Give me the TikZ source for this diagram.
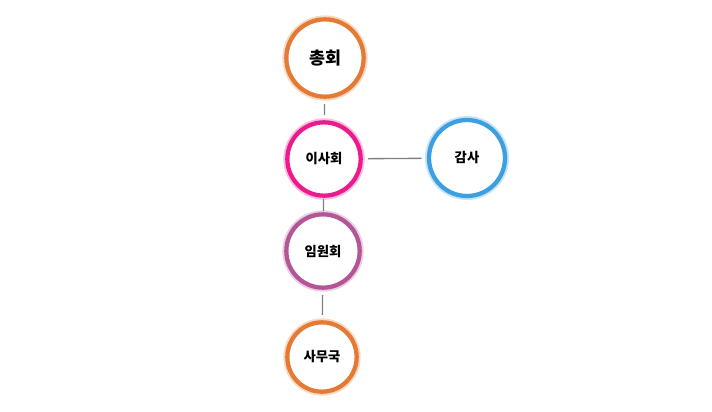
\documentclass[tikz,border=0pt]{standalone}
\usepackage{fontspec}
\newfontfamily\kofont{Noto Sans CJK KR}
\usepackage{tikz}
\usetikzlibrary{positioning}
\definecolor{ringorange}{HTML}{E47A34}
\definecolor{ringpink}{HTML}{EC1A8C}
\definecolor{ringblue}{HTML}{3C9FE2}
\definecolor{ringpurple}{HTML}{B45596}
\definecolor{linkgray}{HTML}{7F7F7F}
\tikzset{
  ring/.style={circle, draw=#1, line width=3.2pt, fill=white, inner sep=0pt,
    preaction={draw=#1!28, line width=6pt},
    font=\kofont\bfseries\fontsize{10}{12}\selectfont},
  link/.style={draw=linkgray, line width=1pt, shorten <=4pt, shorten >=4pt}
}
\begin{document}
\begin{tikzpicture}[x=0.75pt, y=-0.75pt]
			%%%%% START %%%%%
			\useasboundingbox (0, 0) rectangle (712, 411);
			
			\node[ring=ringorange, minimum size=58pt, font=\kofont\bfseries\fontsize{13}{15}\selectfont] (chonghoe) at (325, 58) {총회};
			\node[ring=ringpink, minimum size=55pt] (isahoe) at (324, 159) {이사회};
			\node[ring=ringblue, minimum size=57pt] (gamsa) at (467, 158) {감사};
			\node[ring=ringpurple, minimum size=55pt] (imwonhoe) at (323, 251) {임원회};
			\node[ring=ringorange, minimum size=52pt] (samuguk) at (322, 357) {사무국};
			
			\draw[link] (chonghoe) -- (isahoe);
			\draw[link] (isahoe) -- (gamsa);
			\draw[link, shorten <=1pt, shorten >=1pt] (isahoe) -- (imwonhoe);
			\draw[link] (imwonhoe) -- (samuguk);
			
			%%%%% END %%%%%
\end{tikzpicture}
\end{document}
